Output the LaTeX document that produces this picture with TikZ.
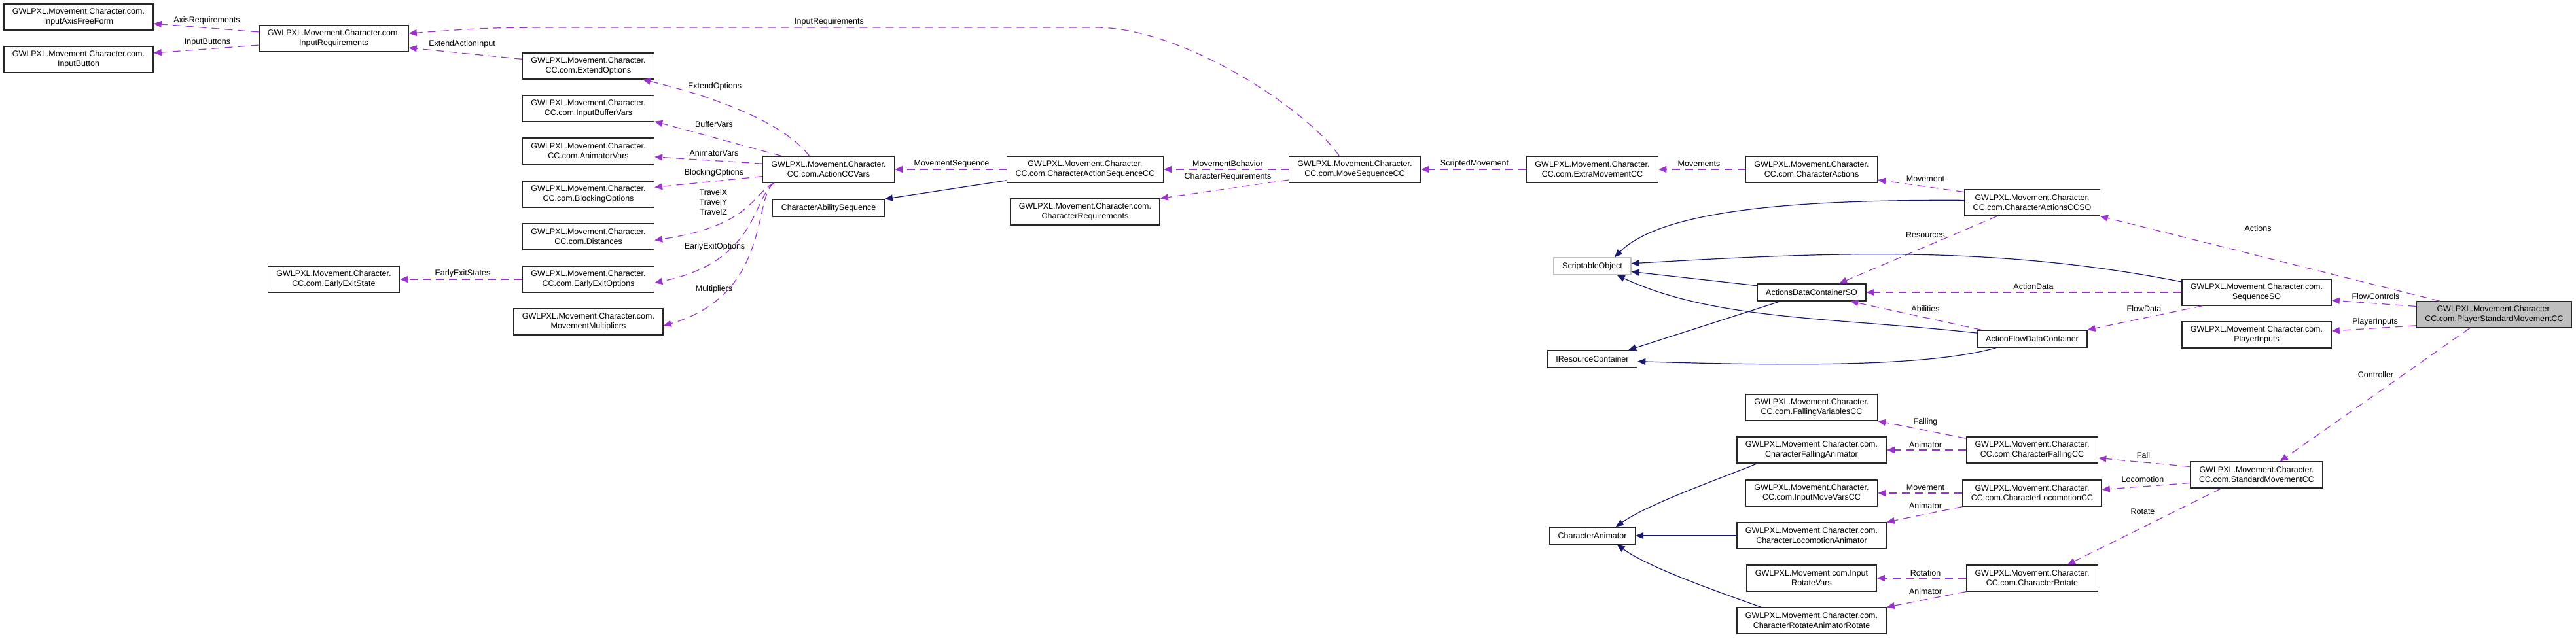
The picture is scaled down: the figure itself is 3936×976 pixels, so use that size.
\documentclass[tikz,border=0pt]{standalone}
\usepackage{fontspec}
\setmainfont{Liberation Sans}
\usetikzlibrary{arrows.meta}
\definecolor{dxpurple}{HTML}{9A32CD}
\definecolor{dxnavy}{HTML}{191970}
\definecolor{dxgrey}{HTML}{BFBFBF}

\begin{document}
\begin{tikzpicture}[x=0.5pt,y=-0.5pt,
  cls/.style={draw=black!85,line width=0.7pt,fill=white,align=center,inner xsep=6.5pt,inner ysep=2pt,minimum height=20pt,font=\fontsize{6.25}{7.5}\selectfont},
  cls1/.style={cls,minimum height=13pt},
  lbl/.style={inner sep=0pt,align=center,text=black,font=\fontsize{6.25}{7.5}\selectfont},
  uses/.style={dxpurple,line width=0.6pt,dash pattern=on 6pt off 4pt,-{Triangle[length=6pt,width=5pt]}},
  isa/.style={dxnavy,line width=0.6pt,-{Triangle[length=6pt,width=5pt]}}]
\useasboundingbox (0,0) rectangle (3936,976);
\node[cls] (axisff) at (120,26) {GWLPXL.Movement.Character.com.\\InputAxisFreeForm};
\node[cls] (inbtn) at (120,91) {GWLPXL.Movement.Character.com.\\InputButton};
\node[cls] (inreq) at (510,59) {GWLPXL.Movement.Character.com.\\InputRequirements};
\node[cls] (eestate) at (510,427) {GWLPXL.Movement.Character.\\CC.com.EarlyExitState};
\node[cls] (extopt) at (899,101) {GWLPXL.Movement.Character.\\CC.com.ExtendOptions};
\node[cls] (bufvars) at (899,166) {GWLPXL.Movement.Character.\\CC.com.InputBufferVars};
\node[cls] (animvars) at (899,231) {GWLPXL.Movement.Character.\\CC.com.AnimatorVars};
\node[cls] (blockopt) at (899,297) {GWLPXL.Movement.Character.\\CC.com.BlockingOptions};
\node[cls] (dist) at (899,362) {GWLPXL.Movement.Character.\\CC.com.Distances};
\node[cls] (eeopt) at (899,427) {GWLPXL.Movement.Character.\\CC.com.EarlyExitOptions};
\node[cls] (mult) at (899,492) {GWLPXL.Movement.Character.com.\\MovementMultipliers};
\node[cls] (accvars) at (1266,259) {GWLPXL.Movement.Character.\\CC.com.ActionCCVars};
\node[cls1] (abilseq) at (1266,318) {CharacterAbilitySequence};
\node[cls] (casccc) at (1658,259) {GWLPXL.Movement.Character.\\CC.com.CharacterActionSequenceCC};
\node[cls] (charreq) at (1658,324) {GWLPXL.Movement.Character.com.\\CharacterRequirements};
\node[cls] (moveseq) at (2070,259) {GWLPXL.Movement.Character.\\CC.com.MoveSequenceCC};
\node[cls] (extramv) at (2433,259) {GWLPXL.Movement.Character.\\CC.com.ExtraMovementCC};
\node[cls] (charact) at (2768,259) {GWLPXL.Movement.Character.\\CC.com.CharacterActions};
\node[cls] (accso) at (3105,310) {GWLPXL.Movement.Character.\\CC.com.CharacterActionsCCSO};
\node[cls1,draw=dxgrey] (scrobj) at (2433,407) {ScriptableObject};
\node[cls1] (adcso) at (2768,447) {ActionsDataContainerSO};
\node[cls1] (afdc) at (3105,518) {ActionFlowDataContainer};
\node[cls1] (iresc) at (2433,549) {IResourceContainer};
\node[cls] (seqso) at (3448,447) {GWLPXL.Movement.Character.com.\\SequenceSO};
\node[cls] (plinp) at (3448,512) {GWLPXL.Movement.Character.com.\\PlayerInputs};
\node[cls,fill=dxgrey] (psmcc) at (3811,481) {GWLPXL.Movement.Character.\\CC.com.PlayerStandardMovementCC};
\node[cls] (smcc) at (3448,726) {GWLPXL.Movement.Character.\\CC.com.StandardMovementCC};
\node[cls] (fallvars) at (2768,623) {GWLPXL.Movement.Character.\\CC.com.FallingVariablesCC};
\node[cls] (fallanim) at (2768,688) {GWLPXL.Movement.Character.com.\\CharacterFallingAnimator};
\node[cls] (movevars) at (2768,754) {GWLPXL.Movement.Character.\\CC.com.InputMoveVarsCC};
\node[cls] (locoanim) at (2768,819) {GWLPXL.Movement.Character.com.\\CharacterLocomotionAnimator};
\node[cls] (rotvars) at (2768,884) {GWLPXL.Movement.com.Input\\RotateVars};
\node[cls] (rotanim) at (2768,949) {GWLPXL.Movement.Character.com.\\CharacterRotateAnimatorRotate};
\node[cls1] (charanim) at (2433,819) {CharacterAnimator};
\node[cls] (fallcc) at (3105,688) {GWLPXL.Movement.Character.\\CC.com.CharacterFallingCC};
\node[cls] (lococc) at (3105,754) {GWLPXL.Movement.Character.\\CC.com.CharacterLocomotionCC};
\node[cls] (rotcc) at (3105,884) {GWLPXL.Movement.Character.\\CC.com.CharacterRotate};

\draw[uses] (inreq.175) -- (axisff.355) node[lbl] (tAxis) at (316,31) {AxisRequirements};
\draw[uses] (inreq.185) -- (inbtn.5) node[lbl] (tBtn) at (317,64) {InputButtons};
\draw[uses] (extopt.174) -- (inreq.353) node[lbl] (tExtIn) at (706,67) {ExtendActionInput};
\draw[uses] (moveseq.139) .. controls (2000,170) and (1810,42) .. (1674,42) -- (900,42)
  .. controls (750,42) .. (inreq.4) node[lbl] (tInReq) at (1267,33) {InputRequirements};
\draw[uses] (eeopt.west) -- (eestate.east) node[lbl] (tEES) at (707,418) {EarlyExitStates};
\draw[uses] (accvars.145) .. controls (1200,190) and (1100,150) .. (extopt.346) node[lbl] (tExt) at (1092,132) {ExtendOptions};
\draw[uses] (accvars.164) -- (bufvars.349) node[lbl] (tBuf) at (1091,190) {BufferVars};
\draw[uses] (accvars.175) -- (animvars.355) node[lbl] (tAnimV) at (1091,234) {AnimatorVars};
\draw[uses] (accvars.186) -- (blockopt.6) node[lbl] (tBlock) at (1091,264) {BlockingOptions};
\draw[uses] (accvars.194) .. controls (1150,295) and (1150,345) .. (dist.357) node[lbl] (tTravel) at (1090,309) {TravelX\\TravelY\\TravelZ};
\draw[uses] (accvars.194) .. controls (1150,300) and (1160,400) .. (eeopt.357) node[lbl] (tEEO) at (1092,377) {EarlyExitOptions};
\draw[uses] (accvars.194) .. controls (1150,300) and (1180,450) .. (mult.357) node[lbl] (tMult) at (1091,442) {Multipliers};
\draw[uses] (casccc.west) -- (accvars.east) node[lbl] (tMS) at (1454,250) {MovementSequence};
\draw[isa] (casccc.188) -- (abilseq.north east);
\draw[uses] (moveseq.west) -- (casccc.east) node[lbl] (tMB) at (1876,250) {MovementBehavior};
\draw[uses] (moveseq.189) -- (charreq.north east) node[lbl] (tCR) at (1876,270) {CharacterRequirements};
\draw[uses] (extramv.west) -- (moveseq.east) node[lbl] (tSM) at (2253,250) {ScriptedMovement};
\draw[uses] (charact.west) -- (extramv.east) node[lbl] (tMvs) at (2596,250) {Movements};
\draw[uses] (accso.171) -- (charact.351) node[lbl] (tMv) at (2942,273) {Movement};
\draw[isa] (accso.178) .. controls (2750,305) and (2540,320) .. (scrobj.22);
\draw[uses] (accso.201) -- (adcso.18) node[lbl] (tRes) at (2942,359) {Resources};
\draw[isa] (seqso.172) .. controls (3050,375) and (2800,385) .. (scrobj.4);
\draw[isa] (adcso.173) -- (scrobj.352);
\draw[isa] (afdc.174) .. controls (2800,485) and (2620,490) .. (scrobj.340);
\draw[isa] (adcso.196) -- (iresc.14);
\draw[isa] (afdc.194) .. controls (2950,560) and (2750,560) .. (iresc.357);
\draw[uses] (seqso.west) -- (adcso.east) node[lbl] (tAD) at (3107,438) {ActionData};
\draw[uses] (afdc.170) -- (adcso.347) node[lbl] (tAb) at (2942,472) {Abilities};
\draw[uses] (seqso.194) -- (afdc.north east) node[lbl] (tFD) at (3276,472) {FlowData};
\draw[uses] (psmcc.166) -- (accso.south east) node[lbl] (tAct) at (3450,349) {Actions};
\draw[uses] (psmcc.174) -- (seqso.354) node[lbl] (tFC) at (3630,453) {FlowControls};
\draw[uses] (psmcc.188) -- (plinp.3) node[lbl] (tPI) at (3629,492) {PlayerInputs};
\draw[uses] (psmcc.209) -- (smcc.30) node[lbl] (tCtl) at (3630,573) {Controller};
\draw[uses] (smcc.173) -- (fallcc.353) node[lbl] (tFall) at (3275,696) {Fall};
\draw[uses] (smcc.187) -- (lococc.3) node[lbl] (tLoco) at (3274,733) {Locomotion};
\draw[uses] (smcc.201) -- (rotcc.21) node[lbl] (tRot) at (3274,782) {Rotate};
\draw[uses] (fallcc.170) -- (fallvars.south east) node[lbl] (tFalling) at (2942,645) {Falling};
\draw[uses] (fallcc.west) -- (fallanim.east) node[lbl] (tAnimF) at (2942,680) {Animator};
\draw[uses] (lococc.west) -- (movevars.east) node[lbl] (tMove) at (2942,745) {Movement};
\draw[uses] (lococc.south west) -- (locoanim.north east) node[lbl] (tAnimL) at (2942,773) {Animator};
\draw[uses] (rotcc.west) -- (rotvars.east) node[lbl] (tRotn) at (2942,876) {Rotation};
\draw[uses] (rotcc.south west) -- (rotanim.north east) node[lbl] (tAnimR) at (2942,904) {Animator};
\draw[isa] (fallanim.194) .. controls (2620,735) and (2520,770) .. (charanim.21);
\draw[isa] (locoanim.west) -- (charanim.east);
\draw[isa] (rotanim.165) .. controls (2620,903) and (2520,868) .. (charanim.340);
\end{tikzpicture}
\end{document}
